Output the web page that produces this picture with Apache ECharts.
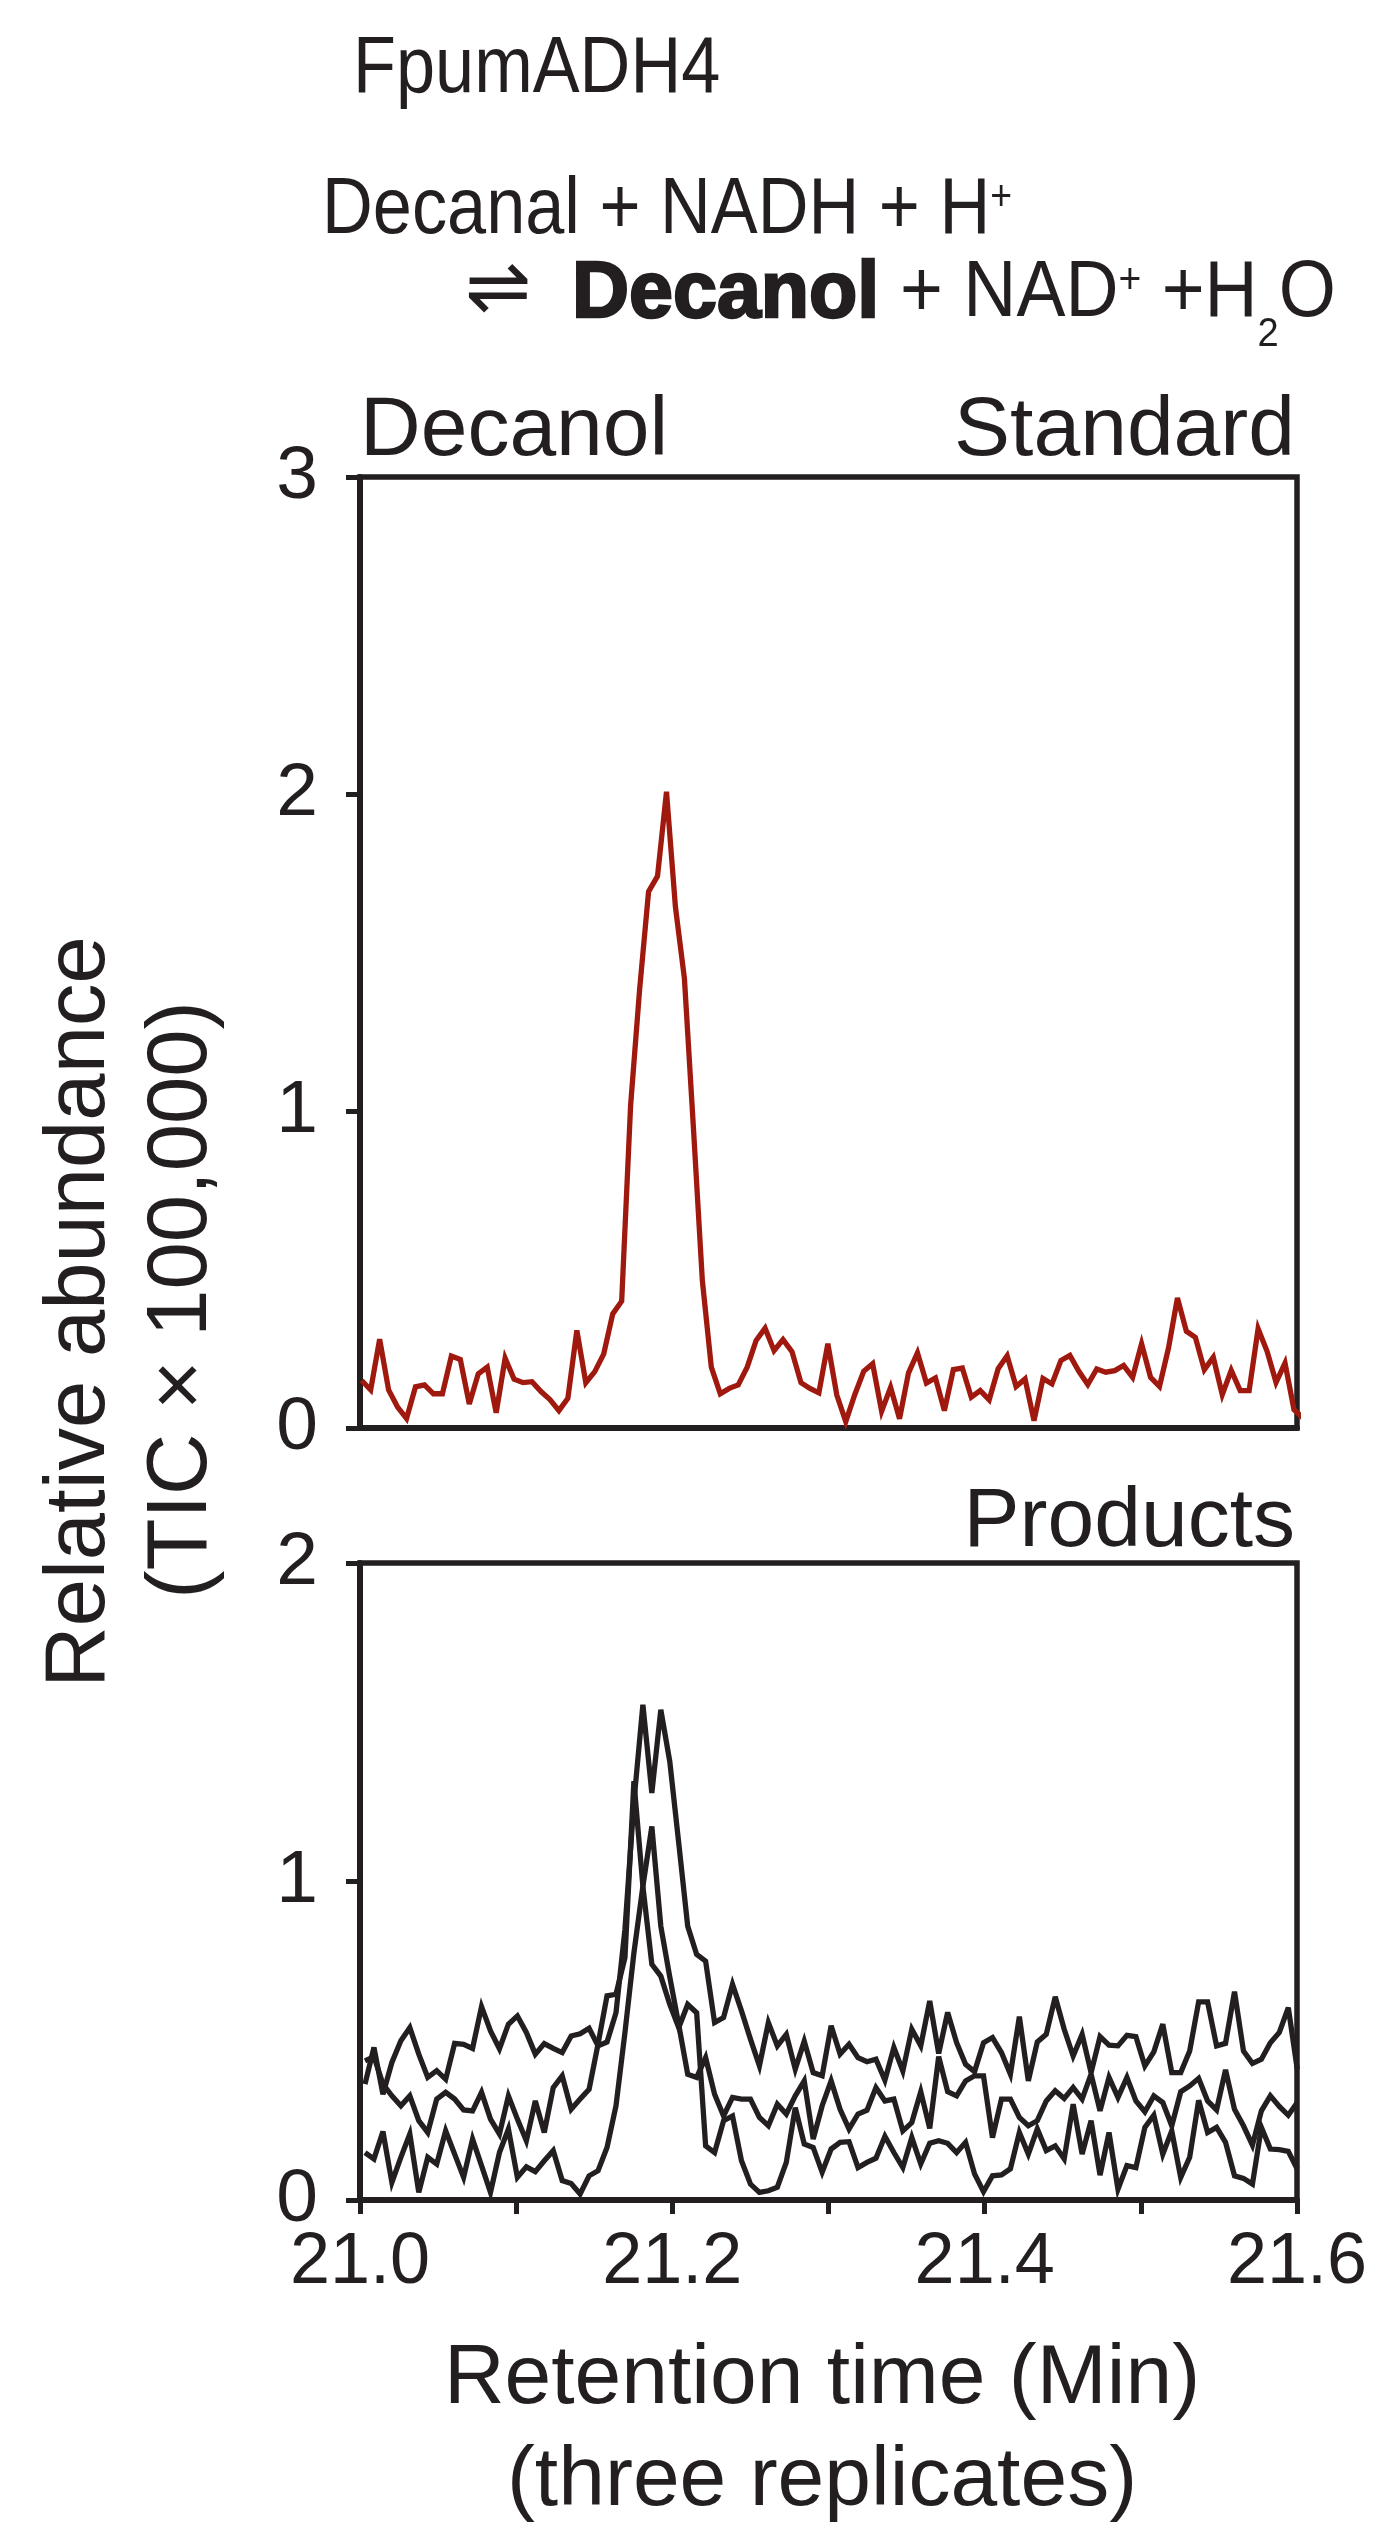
<!DOCTYPE html>
<html>
<head>
<meta charset="utf-8">
<script src="https://cdn.jsdelivr.net/npm/echarts@6/dist/echarts.min.js"></script>
<style>
html,body{margin:0;padding:0;background:#ffffff;}
#chart{width:1379px;height:2535px;}
</style>
</head>
<body>
<div id="chart"></div>
<script>
// ---------------- data ----------------
const enzymeName = 'FpumADH4';
const standardLabel = 'Decanol';
const standardTag = 'Standard';
const productsTag = 'Products';
const yTitle1 = 'Relative abundance';
const yTitle2 = '(TIC \u00d7 100,000)';
const xTitle1 = 'Retention time (Min)';
const xTitle2 = '(three replicates)';
const xTickLabels = ['21.0', '21.2', '21.4', '21.6'];

// sampling of the chromatograms (minutes)
const standardStart = 21.0011;
const productsStart = 21.0032;
const sampleStep = 0.00574;

// Decanol standard, TIC x 100,000
const standardAbundance = [
  0.15,0.12,0.28,0.12,0.066,0.03,0.13,0.136,0.108,0.108,
  0.227,0.216,0.076,0.171,0.192,0.048,0.22,0.154,0.143,0.146,
  0.115,0.09,0.055,0.094,0.308,0.143,0.178,0.234,0.36,0.40,
  1.019,1.383,1.692,1.741,2.007,1.643,1.418,0.949,0.465,0.192,
  0.108,0.125,0.136,0.192,0.276,0.315,0.244,0.279,0.241,0.143,
  0.125,0.111,0.266,0.104,0.02,0.105,0.179,0.203,0.053,0.128,
  0.029,0.174,0.237,0.142,0.158,0.055,0.184,0.189,0.097,0.118,
  0.089,0.187,0.228,0.131,0.155,0.023,0.156,0.139,0.213,0.229,
  0.179,0.137,0.186,0.176,0.181,0.197,0.160,0.266,0.160,0.131,
  0.252,0.410,0.305,0.286,0.184,0.223,0.105,0.182,0.118,0.118,
  0.313,0.242,0.144,0.205,0.058,0.032,0.01
];

// Products, three replicates
const replicate1 = [
  0.364,0.479,0.332,0.432,0.500,0.541,0.458,0.385,0.406,0.379,
  0.492,0.489,0.476,0.607,0.531,0.475,0.552,0.578,0.526,0.458,
  0.491,0.476,0.463,0.515,0.522,0.539,0.484,0.496,0.588,0.85,
  1.25,1.555,1.278,1.539,1.377,1.121,0.86,0.771,0.750,0.557,
  0.573,0.677,0.594,0.505,0.421,0.557,0.484,0.520,0.411,0.499,
  0.400,0.390,0.547,0.458,0.489,0.447,0.434,0.442,0.376,0.479,
  0.405,0.536,0.484,0.625,0.46,0.589,0.494,0.426,0.403,0.494,
  0.510,0.463,0.395,0.576,0.374,0.496,0.520,0.638,0.536,0.452,
  0.520,0.400,0.513,0.486,0.484,0.517,0.513,0.421,0.465,0.552,
  0.400,0.400,0.468,0.622,0.622,0.484,0.492,0.654,0.468,0.429,
  0.442,0.494,0.526,0.604,0.411
];
const replicate2 = [
  0.437,0.45,0.364,0.327,0.296,0.327,0.249,0.212,0.317,0.338,
  0.317,0.283,0.280,0.338,0.254,0.207,0.327,0.254,0.186,0.311,
  0.212,0.353,0.390,0.285,0.317,0.348,0.49,0.641,0.646,0.761,
  1.315,0.985,0.74,0.703,0.614,0.541,0.614,0.588,0.170,0.149,
  0.249,0.264,0.123,0.05,0.024,0.029,0.040,0.118,0.290,0.176,
  0.165,0.087,0.160,0.181,0.183,0.102,0.118,0.131,0.200,0.149,
  0.102,0.196,0.113,0.178,0.186,0.178,0.149,0.181,0.082,0.026,
  0.076,0.079,0.098,0.212,0.144,0.223,0.155,0.170,0.129,0.301,
  0.144,0.249,0.078,0.212,0.034,0.108,0.102,0.228,0.266,0.144,
  0.217,0.071,0.134,0.313,0.212,0.228,0.181,0.076,0.068,0.050,
  0.228,0.160,0.158,0.153,0.097
];
const replicate3 = [
  0.149,0.129,0.215,0.055,0.134,0.207,0.024,0.134,0.113,0.217,
  0.144,0.071,0.191,0.108,0.024,0.149,0.223,0.071,0.104,0.089,
  0.123,0.155,0.061,0.052,0.019,0.076,0.092,0.165,0.296,0.526,
  0.776,0.985,1.173,0.86,0.70,0.55,0.395,0.385,0.447,0.332,
  0.264,0.322,0.317,0.317,0.259,0.233,0.301,0.270,0.327,0.374,
  0.191,0.296,0.374,0.285,0.223,0.270,0.282,0.353,0.311,0.317,
  0.217,0.243,0.340,0.225,0.45,0.340,0.327,0.374,0.390,0.390,
  0.196,0.317,0.317,0.259,0.233,0.249,0.311,0.343,0.319,0.353,
  0.317,0.395,0.280,0.385,0.322,0.385,0.311,0.277,0.327,0.306,
  0.233,0.340,0.358,0.382,0.311,0.283,0.409,0.285,0.233,0.172,
  0.280,0.327,0.294,0.266,0.306
];

// ---------------- styling ----------------
const FONT = '"Liberation Sans", Arial, Helvetica, sans-serif';
const INK = '#231f20';
const RED = '#a0190f';

function toPairs(values, start) {
  return values.map((v, i) => [start + i * sampleStep, v]);
}

function lineSeries(values, start, color, axisIdx) {
  return {
    type: 'line',
    xAxisIndex: axisIdx,
    yAxisIndex: axisIdx,
    data: toPairs(values, start),
    showSymbol: false,
    symbol: 'none',
    clip: true,
    silent: true,
    lineStyle: { color: color, width: 5.3, join: 'miter', miterLimit: 4 },
    z: 3
  };
}

const axisLineStyle = { show: true, onZero: false, lineStyle: { color: INK, width: 6 } };
const tickStyle = { show: true, inside: false, length: 14, lineStyle: { color: INK, width: 5 } };

const chart = echarts.init(document.getElementById('chart'), null, { renderer: 'canvas' });

const option = {
  animation: false,
  backgroundColor: '#ffffff',
  grid: [
    { left: 360, top: 477, width: 937, height: 951, show: true, borderColor: INK, borderWidth: 5.5, containLabel: false },
    { left: 360, top: 1563, width: 937, height: 637, show: true, borderColor: INK, borderWidth: 5.5, containLabel: false }
  ],
  xAxis: [
    {
      gridIndex: 0, type: 'value', min: 21.0, max: 21.6, interval: 0.1,
      axisLine: axisLineStyle, axisTick: { show: false }, axisLabel: { show: false },
      splitLine: { show: false }
    },
    {
      gridIndex: 1, type: 'value', min: 21.0, max: 21.6, interval: 0.1,
      axisLine: axisLineStyle, axisTick: tickStyle,
      axisLabel: {
        margin: 27, fontSize: 72, fontFamily: FONT, color: INK,
        formatter: function (v) {
          const s = Number(v).toFixed(1);
          return xTickLabels.indexOf(s) >= 0 ? s : '';
        }
      },
      splitLine: { show: false }
    }
  ],
  yAxis: [
    {
      gridIndex: 0, type: 'value', min: 0, max: 3, interval: 1,
      axisLine: axisLineStyle, axisTick: tickStyle,
      axisLabel: { margin: 42, fontSize: 75, fontFamily: FONT, color: INK },
      splitLine: { show: false }
    },
    {
      gridIndex: 1, type: 'value', min: 0, max: 2, interval: 1,
      axisLine: axisLineStyle, axisTick: tickStyle,
      axisLabel: { margin: 42, fontSize: 75, fontFamily: FONT, color: INK },
      splitLine: { show: false }
    }
  ],
  series: [
    lineSeries(standardAbundance, standardStart, RED, 0),
    lineSeries(replicate1, productsStart, INK, 1),
    lineSeries(replicate2, productsStart, INK, 1),
    lineSeries(replicate3, productsStart, INK, 1)
  ],
  graphic: [
    // enzyme name
    {
      type: 'text', x: 353, y: 70, scaleX: 0.89,
      style: { text: enzymeName, fontSize: 79, fontFamily: FONT, fill: INK, align: 'left', verticalAlign: 'middle' }
    },
    // reaction line 1
    {
      type: 'text', x: 322, y: 172, scaleX: 0.89,
      style: {
        text: '{m|Decanal + NADH + H}{sup|+}',
        fill: INK, align: 'left', verticalAlign: 'top',
        rich: {
          m: { fontSize: 79, fontFamily: FONT, fill: INK, verticalAlign: 'top' },
          sup: { fontSize: 42, fontFamily: FONT, fill: INK, verticalAlign: 'top', padding: [5, 0, 0, 0] }
        }
      }
    },
    // reaction line 2: arrow
    {
      type: 'text', x: 465, y: 292,
      style: { text: '\u21cc', fontSize: 79, fontFamily: '"DejaVu Sans", sans-serif', fill: INK, align: 'left', verticalAlign: 'middle' }
    },
    // reaction line 2: bold product
    {
      type: 'text', x: 572, y: 295,
      style: {
        text: standardLabel, fontSize: 79, fontWeight: 'bold', fontFamily: FONT,
        fill: INK, stroke: INK, lineWidth: 2.5, align: 'left', verticalAlign: 'middle'
      }
    },
    // reaction line 2: rest
    {
      type: 'text', x: 900, y: 255, scaleX: 0.93,
      style: {
        text: '{m|+ NAD}{sup|+}{m| +H}{sub|2}{m|O}',
        fill: INK, align: 'left', verticalAlign: 'top',
        rich: {
          m: { fontSize: 79, fontFamily: FONT, fill: INK, verticalAlign: 'top' },
          sup: { fontSize: 42, fontFamily: FONT, fill: INK, verticalAlign: 'top', padding: [5, 0, 0, 0] },
          sub: { fontSize: 41, fontFamily: FONT, fill: INK, verticalAlign: 'bottom', lineHeight: 100 }
        }
      }
    },
    // panel labels
    {
      type: 'text', x: 360, y: 432,
      style: { text: standardLabel, fontSize: 84, fontFamily: FONT, fill: INK, align: 'left', verticalAlign: 'middle' }
    },
    {
      type: 'text', x: 1295, y: 432,
      style: { text: standardTag, fontSize: 84, fontFamily: FONT, fill: INK, align: 'right', verticalAlign: 'middle' }
    },
    {
      type: 'text', x: 1295, y: 1523,
      style: { text: productsTag, fontSize: 84, fontFamily: FONT, fill: INK, align: 'right', verticalAlign: 'middle' }
    },
    // y axis title
    {
      type: 'text', x: 81, y: 1312, rotation: Math.PI / 2,
      style: { text: yTitle1, fontSize: 85, fontFamily: FONT, fill: INK, align: 'center', verticalAlign: 'middle' }
    },
    {
      type: 'text', x: 183, y: 1300, rotation: Math.PI / 2,
      style: { text: yTitle2, fontSize: 85, fontFamily: FONT, fill: INK, align: 'center', verticalAlign: 'middle' }
    },
    // x axis title
    {
      type: 'text', x: 822, y: 2380,
      style: { text: xTitle1, fontSize: 84, fontFamily: FONT, fill: INK, align: 'center', verticalAlign: 'middle' }
    },
    {
      type: 'text', x: 822, y: 2482,
      style: { text: xTitle2, fontSize: 84, fontFamily: FONT, fill: INK, align: 'center', verticalAlign: 'middle' }
    }
  ]
};

chart.setOption(option);
</script>
</body>
</html>
